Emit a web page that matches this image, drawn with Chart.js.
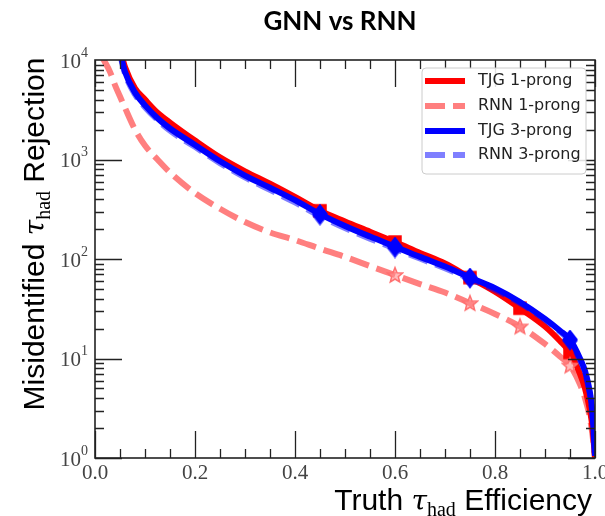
<!DOCTYPE html>
<html>
<head>
<meta charset="utf-8">
<script src="https://cdn.jsdelivr.net/npm/chart.js@4.4.1/dist/chart.umd.min.js"></script>
<style>
  html, body { margin: 0; padding: 0; background: #fff; }
  #contenedor { width: 605px; height: 516px; }
</style>
</head>
<body>
<div id="contenedor"><canvas id="grafico_rechazo" width="605" height="516"></canvas></div>
<script>
// Eficiencia de tau verdaderos (eje X) y rechazo de cada algoritmo (eje Y, log)
const eficiencia = [0.015, 0.02, 0.03, 0.04, 0.05, 0.06, 0.08, 0.1, 0.125, 0.15, 0.2, 0.25, 0.3, 0.35, 0.4, 0.45,
  0.5, 0.55, 0.6, 0.65, 0.7, 0.75, 0.8, 0.85, 0.9, 0.93, 0.95, 0.97, 0.98, 0.99, 0.995, 1.0];

const rechazoTjg1 = [null, null, null, null, 13000, 8500, 5200, 4000, 2950, 2350, 1550, 1050, 760, 570, 420, 305,
  238, 188, 148, 115, 90, 65, 47, 32, 21, 15, 11.5, 7, 5, 3, 2, 1];
const rechazoRnn1 = [10500, 9500, 7600, 5600, 4300, 3300, 2000, 1380, 1000, 740, 460, 320, 235, 185, 155, 127,
  105, 85, 69, 56, 46, 36, 28, 21, 14, 10.5, 8.5, 5.5, 4, 2.5, 1.7, 1];
const rechazoTjg3 = [null, null, null, null, 12000, 7600, 4700, 3500, 2600, 2050, 1400, 960, 690, 520, 390, 283,
  215, 168, 133, 105, 84, 65, 51, 37, 25, 19, 15.5, 10, 7.5, 4.5, 2.8, 1.05];
const rechazoRnn3 = [null, null, null, null, 11500, 7300, 4500, 3350, 2500, 1950, 1340, 920, 660, 495, 370, 270,
  205, 160, 127, 101, 81, 63, 49, 36, 24.5, 18.5, 15, 9.6, 7.2, 4.3, 2.7, 1];

// Puntos de trabajo marcados en cada curva
const puntosTjg1 = [0.45, 0.6, 0.75, 0.85, 0.95];
const puntosRnn1 = [0.6, 0.75, 0.85, 0.95];
const puntosTjg3 = [0.45, 0.6, 0.75, 0.95];
const puntosRnn3 = [0.45, 0.6, 0.75, 0.95];

const ticksX = [0, 0.2, 0.4, 0.6, 0.8, 1.0];
const etiquetasX = ["0.0", "0.2", "0.4", "0.6", "0.8", "1.0"];
const ticksY = [1, 10, 100, 1000, 10000];
const exponentesY = ["0", "1", "2", "3", "4"];

const ROJO = "#ff0000";
const ROSA = "rgba(255, 0, 0, 0.5)";
const AZUL = "#0000ff";
const CELESTE = "rgba(0, 0, 255, 0.5)";

function armarSerie(valores) {
  return eficiencia.map(function (e, i) {
    return { x: e, y: valores[i] };
  });
}

function crearMarcador(tipo, relleno, borde) {
  let c = document.createElement("canvas");
  c.width = 18;
  c.height = 20;
  let g = c.getContext("2d");
  g.fillStyle = relleno;
  g.strokeStyle = borde;
  g.lineWidth = 1.5;
  g.beginPath();
  if (tipo === "cuadrado") {
    g.rect(3, 4, 12, 12);
  } else if (tipo === "rombo") {
    g.moveTo(9, 1);
    g.lineTo(16, 10);
    g.lineTo(9, 19);
    g.lineTo(2, 10);
    g.closePath();
  } else {
    for (let k = 0; k < 10; k++) {
      let r = k % 2 === 0 ? 8 : 3.5;
      let a = -Math.PI / 2 + (k * Math.PI) / 5;
      let px = 9 + r * Math.cos(a);
      let py = 10.5 + r * Math.sin(a);
      if (k === 0) g.moveTo(px, py);
      else g.lineTo(px, py);
    }
    g.closePath();
  }
  g.fill();
  g.stroke();
  return c;
}

function radioMarcador(puntos) {
  return function (ctx) {
    return puntos.indexOf(eficiencia[ctx.dataIndex]) >= 0 ? 6 : 0;
  };
}

function dibujarTextoMixto(ctx, partes, x, y, alineacion) {
  let total = 0;
  partes.forEach(function (p) {
    ctx.font = p.fuente;
    total += ctx.measureText(p.texto).width;
  });
  let cursor = alineacion === "right" ? x - total : alineacion === "center" ? x - total / 2 : x;
  ctx.textAlign = "left";
  ctx.textBaseline = "alphabetic";
  partes.forEach(function (p) {
    ctx.font = p.fuente;
    ctx.fillText(p.texto, cursor, y + (p.dy || 0));
    cursor += ctx.measureText(p.texto).width;
  });
}

function partesTau() {
  return [
    { texto: "τ", fuente: "italic 28px 'DejaVu Serif'", dy: 0 },
    { texto: "had", fuente: "20px 'Liberation Serif'", dy: 6 },
  ];
}

const marcoEjes = {
  id: "marcoEjes",
  afterDatasetsDraw: function (chart) {
    let ctx = chart.ctx;
    let a = chart.chartArea;
    let sx = chart.scales.x;
    let sy = chart.scales.y;
    ctx.save();
    ctx.strokeStyle = "#222";
    ctx.lineWidth = 1.3;

    // ticks hacia adentro en los cuatro lados
    for (let v = 0; v <= 1.0001; v += 0.05) {
      let px = Math.round(sx.getPixelForValue(v)) + 0.5;
      let mayor = Math.abs(v * 5 - Math.round(v * 5)) < 1e-6;
      let largo = mayor ? 27 : 9;
      ctx.beginPath();
      ctx.moveTo(px, a.bottom);
      ctx.lineTo(px, a.bottom - largo);
      ctx.moveTo(px, a.top);
      ctx.lineTo(px, a.top + largo);
      ctx.stroke();
    }
    for (let d = 1; d < 10000; d *= 10) {
      for (let m = 1; m <= 9; m++) {
        let py = Math.round(sy.getPixelForValue(d * m)) + 0.5;
        let largo = m === 1 ? 27 : 9;
        ctx.beginPath();
        ctx.moveTo(a.left, py);
        ctx.lineTo(a.left + largo, py);
        ctx.moveTo(a.right, py);
        ctx.lineTo(a.right - largo, py);
        ctx.stroke();
      }
    }
    ctx.lineWidth = 1.6;
    ctx.strokeRect(a.left, a.top, a.right - a.left, a.bottom - a.top);
    ctx.restore();
  },
  afterDraw: function (chart) {
    let ctx = chart.ctx;
    let a = chart.chartArea;
    let sx = chart.scales.x;
    let sy = chart.scales.y;
    ctx.save();

    // etiquetas de los ejes
    ctx.fillStyle = "#444";
    ctx.font = "21px 'Liberation Serif'";
    ctx.textAlign = "center";
    ctx.textBaseline = "top";
    ticksX.forEach(function (v, i) {
      ctx.fillText(etiquetasX[i], sx.getPixelForValue(v), a.bottom + 5);
    });
    ticksY.forEach(function (v, i) {
      let py = sy.getPixelForValue(v);
      ctx.textBaseline = "middle";
      ctx.textAlign = "right";
      ctx.font = "14px 'Liberation Serif'";
      ctx.fillText(exponentesY[i], 88, py - 7);
      let w = ctx.measureText(exponentesY[i]).width;
      ctx.font = "21px 'Liberation Serif'";
      ctx.fillText("10", 88 - w, py + 2);
    });

    // títulos
    ctx.fillStyle = "#000";
    ctx.font = "bold 26px Lato";
    ctx.textAlign = "center";
    ctx.textBaseline = "middle";
    ctx.fillText("GNN vs RNN", 340, 22);

    let sans = "30px 'Liberation Sans Narrow', 'Liberation Sans'";
    dibujarTextoMixto(ctx, [{ texto: "Truth ", fuente: sans }].concat(partesTau(), [{ texto: " Efficiency", fuente: sans }]), 592, 510, "right");

    ctx.translate(44, 234);
    ctx.rotate(-Math.PI / 2);
    dibujarTextoMixto(ctx, [{ texto: "Misidentified ", fuente: sans }].concat(partesTau(), [{ texto: " Rejection", fuente: sans }]), 0, 0, "center");
    ctx.setTransform(1, 0, 0, 1, 0, 0);

    // leyenda
    let x0 = 422, y0 = 68, x1 = 586, y1 = 174;
    ctx.beginPath();
    ctx.roundRect(x0, y0, x1 - x0, y1 - y0, 4);
    ctx.fillStyle = "rgba(255,255,255,0.85)";
    ctx.fill();
    ctx.strokeStyle = "#cccccc";
    ctx.lineWidth = 1;
    ctx.stroke();

    let filas = [81, 106, 131, 155];
    chart.data.datasets.forEach(function (ds, i) {
      let y = filas[i];
      ctx.save();
      ctx.strokeStyle = ds.borderColor;
      ctx.lineWidth = ds.borderWidth;
      ctx.setLineDash(ds.borderDash || []);
      ctx.beginPath();
      ctx.moveTo(425, y);
      ctx.lineTo(465, y);
      ctx.stroke();
      ctx.restore();
      ctx.fillStyle = "#222";
      ctx.font = "16px 'DejaVu Sans'";
      ctx.textAlign = "left";
      ctx.textBaseline = "middle";
      ctx.fillText(ds.label, 478, y);
    });
    ctx.restore();
  },
};

let ctxGrafico = document.getElementById("grafico_rechazo");

let chartRechazo = new Chart(ctxGrafico, {
  type: "line",
  data: {
    datasets: [
      {
        label: "TJG 1-prong",
        data: armarSerie(rechazoTjg1),
        borderColor: ROJO,
        borderWidth: 6,
        pointStyle: crearMarcador("cuadrado", ROJO, ROJO),
        pointRadius: radioMarcador(puntosTjg1),
        order: 4,
      },
      {
        label: "RNN 1-prong",
        data: armarSerie(rechazoRnn1),
        borderColor: ROSA,
        borderWidth: 6,
        borderDash: [20, 8],
        pointStyle: crearMarcador("estrella", "rgba(255,140,140,0.6)", "#ff7070"),
        pointRadius: radioMarcador(puntosRnn1),
        order: 3,
      },
      {
        label: "TJG 3-prong",
        data: armarSerie(rechazoTjg3),
        borderColor: AZUL,
        borderWidth: 6,
        pointStyle: crearMarcador("rombo", AZUL, AZUL),
        pointRadius: radioMarcador(puntosTjg3),
        order: 2,
      },
      {
        label: "RNN 3-prong",
        data: armarSerie(rechazoRnn3),
        borderColor: CELESTE,
        borderWidth: 6,
        borderDash: [20, 8],
        pointStyle: crearMarcador("rombo", CELESTE, CELESTE),
        pointRadius: radioMarcador(puntosRnn3),
        order: 1,
      },
    ],
  },
  options: {
    responsive: false,
    animation: false,
    cubicInterpolationMode: "monotone",
    layout: { padding: { left: 95, right: 10, top: 60, bottom: 58 } },
    plugins: {
      legend: { display: false },
      tooltip: { enabled: false },
    },
    scales: {
      x: { type: "linear", min: 0, max: 1, display: false },
      y: { type: "logarithmic", min: 1, max: 10000, display: false },
    },
  },
  plugins: [marcoEjes],
});
</script>
</body>
</html>
